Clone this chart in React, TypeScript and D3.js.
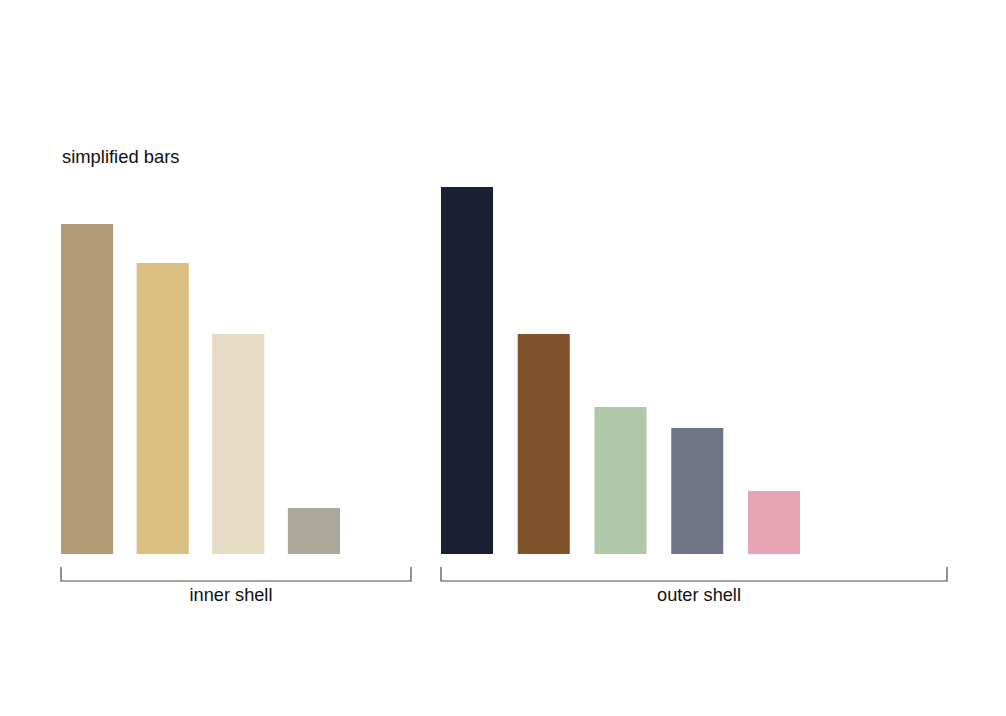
import React, { useEffect, useRef } from 'react';
import * as d3 from 'd3';

const innerCats = ['i1', 'i2', 'i3', 'i4'];
const innerValues = [330, 291, 220, 46];
const innerColors = ['#b39b76', '#dcc083', '#e6dcc3', '#aca99b'];

const outerCats = ['o1', 'o2', 'o3', 'o4', 'o5'];
const outerValues = [367, 220, 147, 126, 63];
const outerColors = ['#1a1f33', '#80532c', '#aec8a8', '#6f7586', '#e5a3b3'];

const groupLabels = ['inner shell', 'outer shell'];
const title = 'simplified bars';

const App: React.FC = () => {
  const svgRef = useRef<SVGSVGElement | null>(null);

  useEffect(() => {
    const width = 1006;
    const height = 716;
    const baseY = 554;
    const font = '"Liberation Sans", Arial, Helvetica, sans-serif';

    const svg = d3.select(svgRef.current)
      .attr('width', width)
      .attr('height', height)
      .style('background-color', 'white');
    svg.selectAll('*').remove();

    const y = d3.scaleLinear().domain([0, 367]).range([baseY, 187]);

    svg.append('text')
      .attr('x', 62)
      .attr('y', 163)
      .attr('font-family', font)
      .attr('font-size', 18.4)
      .attr('fill', '#111')
      .text(title);

    const groups = [
      { cats: innerCats, values: innerValues, colors: innerColors, range: [61, 340], bracket: [61, 411], labelX: 231, label: groupLabels[0] },
      { cats: outerCats, values: outerValues, colors: outerColors, range: [441, 800], bracket: [441, 947], labelX: 699, label: groupLabels[1] },
    ];

    groups.forEach(g => {
      const x = d3.scaleBand<string>()
        .domain(g.cats)
        .range(g.range as [number, number])
        .paddingInner(g.cats.length === 4 ? 0.31 : 0.322)
        .paddingOuter(0);

      svg.append('g')
        .selectAll('rect')
        .data(g.cats)
        .enter()
        .append('rect')
        .attr('x', d => x(d) as number)
        .attr('y', (d, i) => y(g.values[i]))
        .attr('width', x.bandwidth())
        .attr('height', (d, i) => baseY - y(g.values[i]))
        .attr('fill', (d, i) => g.colors[i]);

      const [x0, x1] = g.bracket;
      svg.append('path')
        .attr('d', `M${x0},567 L${x0},581 L${x1},581 L${x1},567`)
        .attr('fill', 'none')
        .attr('stroke', '#4a4a4a')
        .attr('stroke-width', 1.2);

      svg.append('text')
        .attr('x', g.labelX)
        .attr('y', 601)
        .attr('text-anchor', 'middle')
        .attr('font-family', font)
        .attr('font-size', 18.2)
        .attr('fill', '#111')
        .text(g.label);
    });
  }, []);

  return (
    <div>
      <svg ref={svgRef} style={{ position: 'absolute', left: 0, top: 0 }}></svg>
    </div>
  );
};

export default App;
